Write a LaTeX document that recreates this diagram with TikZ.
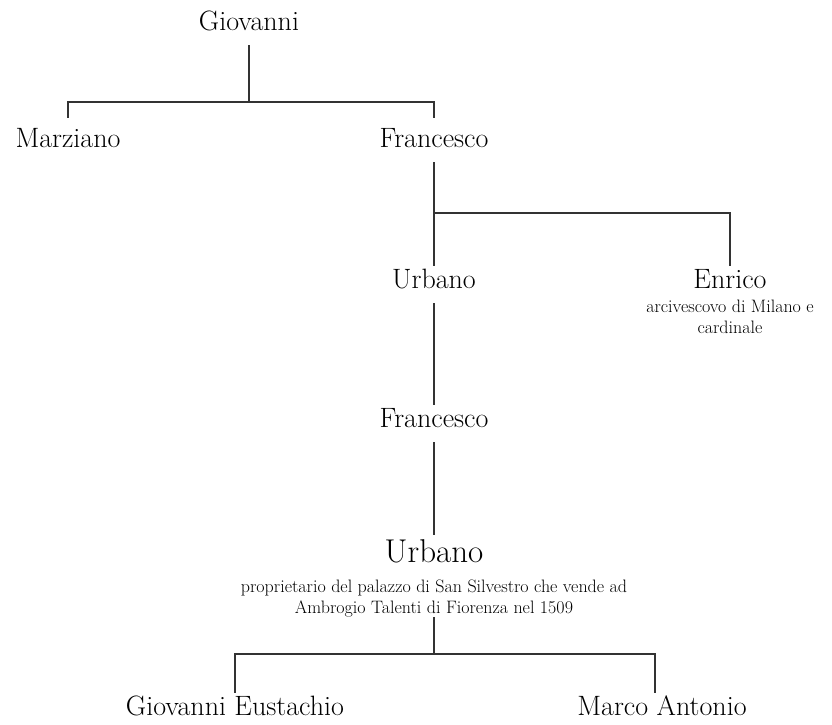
\documentclass[tikz,border=0pt]{standalone}
\usepackage{tikz}

\begin{document}
\begin{tikzpicture}[x=1pt, y=-1pt,
    person/.style={font=\fontsize{28}{34}\selectfont, text height=19pt, text depth=12pt, inner xsep=0pt, inner ysep=3pt, anchor=base},
    remark/.style={font=\fontsize{18}{21}\selectfont, align=center, inner sep=0pt, anchor=north},
    stem/.style={draw=black!80, line width=1.3pt}]
    \useasboundingbox (0,0) rectangle (832,724);
    \node[person] (gio) at (249,30) {Giovanni};
    \node[person] (marz) at (68,147) {Marziano};
    \node[person] (fra1) at (434,147) {Francesco};
    \node[person] (urb1) at (434,288) {Urbano};
    \node[person] (enr) at (730,288) {Enrico};
    \node[remark] (enrnote) at (730,299.5) {arcivescovo di Milano e\\cardinale};
    \node[person] (fra2) at (434,427) {Francesco};
    \node[person, font=\fontsize{33}{40}\selectfont, text height=24pt] (urb2) at (434,562) {Urbano};
    \node[remark] (urbnote) at (434,579.5) {proprietario del palazzo di San Silvestro che vende ad\\Ambrogio Talenti di Fiorenza nel 1509};
    \node[person] (gioeu) at (235,715) {Giovanni Eustachio};
    \node[person] (marco) at (662,715) {Marco Antonio};
    \coordinate (j1) at (249,102);
    \coordinate (j2) at (434,213);
    \coordinate (j3) at (434,654);
    \draw[stem] (gio.south) -- (j1);
    \draw[stem, shorten <=7pt, shorten >=7pt] (marz.north) |- (j1) -| (fra1.north);
    \draw[stem] (fra1.south) -- (urb1.north);
    \draw[stem] (j2) -| (enr.north);
    \draw[stem] (urb1.south) -- (fra2.north);
    \draw[stem] (fra2.south) -- (urb2.north);
    \draw[stem] (urbnote.south) -- (j3);
    \draw[stem] (gioeu.north) |- (j3) -| ([xshift=-7pt]marco.north);
\end{tikzpicture}
\end{document}
